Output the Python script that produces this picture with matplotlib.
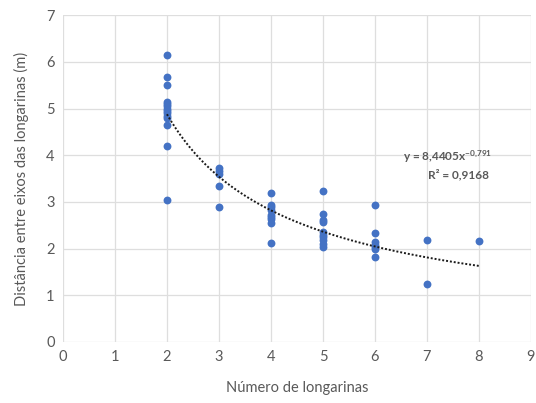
import numpy as np
import matplotlib
matplotlib.use('Agg')
import matplotlib.pyplot as plt

# number of girders vs spacing between girder axes (m)
n_girders = ([2] * 14 + [3] * 5 + [4] * 9 + [5] * 10 + [6] * 7 + [7] * 2 + [8])
spacing = [
    6.14, 5.68, 5.50, 5.15, 5.10, 5.05, 5.00, 4.95, 4.90, 4.85, 4.80, 4.64, 4.19, 3.05,
    3.73, 3.66, 3.60, 3.34, 2.90,
    3.20, 2.94, 2.90, 2.83, 2.73, 2.68, 2.64, 2.54, 2.12,
    3.23, 2.74, 2.62, 2.56, 2.36, 2.30, 2.24, 2.18, 2.10, 2.04,
    2.94, 2.34, 2.15, 2.08, 2.04, 2.00, 1.82,
    2.18, 1.24,
    2.16,
]

# power trendline reported by the spreadsheet
coef_a = 8.4405
coef_b = -0.791
r_squared = 0.9168

plt.rcParams['font.family'] = ['Lato', 'DejaVu Sans']
plt.rcParams['mathtext.fontset'] = 'custom'
plt.rcParams['mathtext.rm'] = 'Lato'
plt.rcParams['mathtext.bf'] = 'Lato:bold'
gray = '#595959'

fig = plt.figure(figsize=(5.36, 4.03), dpi=100)
ax = fig.add_axes([0.1175, 0.1514, 0.873, 0.811])

ax.scatter(n_girders, spacing, s=32, color='#4472C4', zorder=3, linewidths=0)

xs = np.linspace(min(n_girders), max(n_girders), 200)
ax.plot(xs, coef_a * xs ** coef_b, color='#1a1a1a', lw=1.4,
        linestyle=(0, (1, 1)), zorder=4)

ax.text(8.25, 3.96, 'y = 8,4405x$\\mathregular{^{-0{,}791}}$', ha='right', va='center',
        fontsize=8.5, fontweight='bold', color=gray)
ax.text(8.2, 3.58, 'R² = 0,9168', ha='right', va='center',
        fontsize=8.5, fontweight='bold', color=gray)

ax.set_xlim(0, 9)
ax.set_ylim(0, 7)
ax.set_xticks(range(0, 10))
ax.set_yticks(range(0, 8))
ax.grid(True, color='#dedede', lw=0.9)
ax.set_axisbelow(True)
for s in ax.spines.values():
    s.set_visible(False)
ax.tick_params(length=0, labelsize=10.5, colors=gray, pad=6)

ax.set_xlabel('Número de longarinas', fontsize=10.5, color=gray, labelpad=12)
ax.set_ylabel('Distância entre eixos das longarinas (m)', fontsize=10.5,
              color=gray, labelpad=12)

fig.savefig('out.png', dpi=100)
